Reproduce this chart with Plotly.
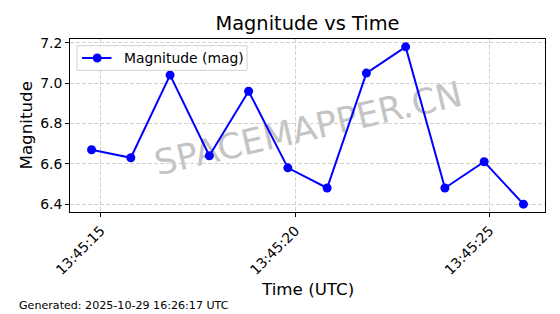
import plotly.graph_objects as go

times = ["2025-10-29 13:45:14.76", "2025-10-29 13:45:15.77", "2025-10-29 13:45:16.78",
         "2025-10-29 13:45:17.79", "2025-10-29 13:45:18.80", "2025-10-29 13:45:19.81",
         "2025-10-29 13:45:20.82", "2025-10-29 13:45:21.83", "2025-10-29 13:45:22.84",
         "2025-10-29 13:45:23.85", "2025-10-29 13:45:24.86", "2025-10-29 13:45:25.87"]
magnitudes = [6.67, 6.63, 7.04, 6.64, 6.96, 6.58, 6.48, 7.05, 7.18, 6.48, 6.61, 6.40]
y_ticks = [6.4, 6.6, 6.8, 7.0, 7.2]
x_ticks = ["2025-10-29 13:45:15", "2025-10-29 13:45:20", "2025-10-29 13:45:25"]
x_range = ["2025-10-29 13:45:14.205", "2025-10-29 13:45:26.425"]
y_range = [6.361, 7.219]
series_name = "Magnitude (mag)"

FONT = "DejaVu Sans"
W, H = 560, 314
L, R, T, B = 70, 15, 39, 102
pw, ph = W - L - R, H - T - B
BLUE = "#0000ff"

def px(x):
    return (x - L) / pw

def py(y):
    return (H - B - y) / ph

fig = go.Figure()
fig.add_trace(go.Scatter(
    x=times, y=magnitudes, mode="lines+markers", name=series_name,
    line=dict(color=BLUE, width=2),
    marker=dict(color=BLUE, size=9),
    showlegend=False,
))

axis_common = dict(
    showline=True, linecolor="black", linewidth=1, mirror=True,
    ticks="outside", ticklen=4, tickcolor="black", tickwidth=1,
    showgrid=True, gridcolor="#d2d2d2", griddash="4px,2px", gridwidth=0.8,
    zeroline=False, tickfont=dict(family=FONT, size=13.9, color="black"),
)

fig.update_layout(
    width=W, height=H,
    margin=dict(l=L, r=R, t=T, b=B),
    paper_bgcolor="white", plot_bgcolor="white",
    font=dict(family=FONT, color="black"),
    title=dict(text="Magnitude vs Time", x=0.5, xref="paper", y=1 - 23 / H,
               yref="container", yanchor="middle", xanchor="center",
               font=dict(family=FONT, size=19.4, color="black")),
    xaxis=dict(type="date", range=x_range, tickvals=x_ticks, tickformat="%H:%M:%S",
               tickangle=-45, **axis_common),
    yaxis=dict(range=y_range, tickvals=y_ticks, tickformat=".1f", **axis_common),
    showlegend=False,
)

# watermark, drawn between grid and data
fig.add_shape(type="rect", xref="paper", yref="paper", x0=0, x1=1, y0=0, y1=1,
              line=dict(width=0), fillcolor="rgba(0,0,0,0)", layer="between",
              label=dict(text="SPACEMAPPER.CN", textangle=-13, textposition="middle center",
                         font=dict(family=FONT, size=35, color="#c4c4c4")))

# legend box (matplotlib style)
lx0, lx1, ly0, ly1 = 77, 247, 45.7, 70.3
ymid = (ly0 + ly1) / 2
fig.add_shape(type="rect", xref="paper", yref="paper",
              x0=px(lx0), x1=px(lx1), y0=py(ly1), y1=py(ly0),
              line=dict(color="#d0d0d0", width=1), fillcolor="rgba(255,255,255,0.8)",
              layer="above")
fig.add_shape(type="line", xref="paper", yref="paper",
              x0=px(82), x1=px(111.5), y0=py(ymid), y1=py(ymid),
              line=dict(color=BLUE, width=2), layer="above")
fig.add_shape(type="circle", xref="paper", yref="paper",
              x0=px(97.2 - 4.5), x1=px(97.2 + 4.5), y0=py(ymid + 4.5), y1=py(ymid - 4.5),
              line=dict(color=BLUE, width=0), fillcolor=BLUE, layer="above")
fig.add_annotation(text=series_name, x=px(122), y=py(ymid), xref="paper", yref="paper",
                   showarrow=False, xanchor="left", yanchor="middle",
                   font=dict(family=FONT, size=13.9, color="black"))

fig.add_annotation(text="Time (UTC)", x=0.5, y=py(289), xref="paper", yref="paper",
                   showarrow=False, yanchor="middle",
                   font=dict(family=FONT, size=16.7, color="black"))
fig.add_annotation(text="Magnitude", x=px(25), y=0.5, xref="paper", yref="paper",
                   showarrow=False, textangle=-90, xanchor="center",
                   font=dict(family=FONT, size=16.7, color="black"))
fig.add_annotation(text="Generated: 2025-10-29 16:26:17 UTC", x=px(17), y=py(305),
                   xref="paper", yref="paper", showarrow=False,
                   xanchor="left", yanchor="middle",
                   font=dict(family=FONT, size=11.1, color="black"))

fig.write_html("out.html")
